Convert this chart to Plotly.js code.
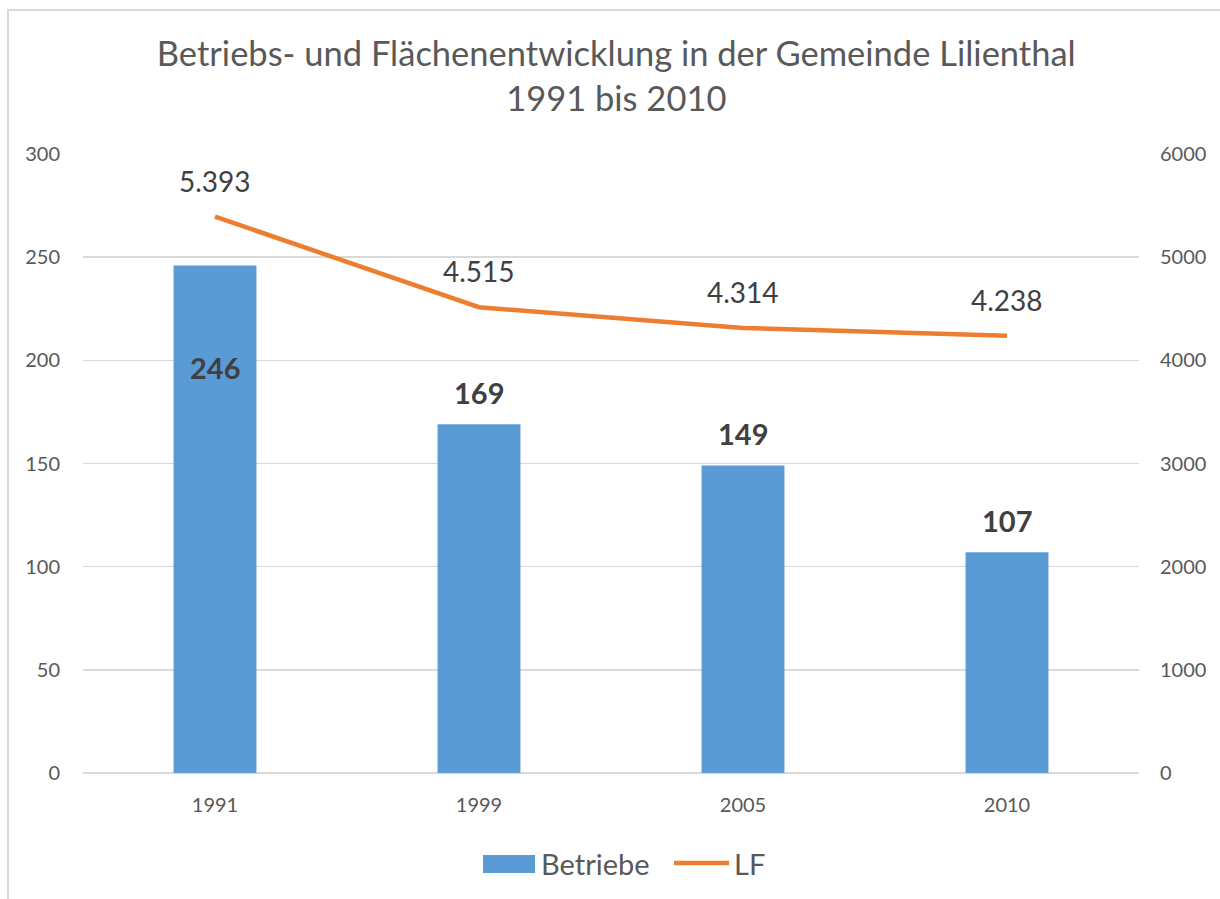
<!DOCTYPE html>
<html>
<head>
<meta charset="utf-8">
<script src="https://cdn.plot.ly/plotly-3.0.1.min.js"></script>
<style>
html,body{margin:0;padding:0;background:#fff;}
#frame{position:absolute;left:7px;top:9px;width:1300px;height:1000px;border-left:2px solid #d9d9d9;border-top:2px solid #d9d9d9;pointer-events:none;z-index:5;}
#chart{position:absolute;left:0;top:0;width:1220px;height:899px;}
</style>
</head>
<body>
<div id="chart"></div>
<div id="frame"></div>
<script>
const years = ['1991', '1999', '2005', '2010'];
const betriebe = [246, 169, 149, 107];
const lf = [5393, 4515, 4314, 4238];
const leftTicks = [0, 50, 100, 150, 200, 250, 300];
const rightTicks = [0, 1000, 2000, 3000, 4000, 5000, 6000];
const barLabelShift = [-102, 32, 32, 32];

function fmtDE(v) {
  return String(v).replace(/\B(?=(\d{3})+(?!\d))/g, '.');
}

const FONT = 'Lato, "Open Sans", sans-serif';
const W = 1220, H = 899, L = 83, R = 81, T = 154, B = 126;
const px = x => (x - L) / (W - L - R);
const py = y => (H - B - y) / (H - T - B);

const traces = [
  {
    type: 'bar', x: years, y: betriebe, name: 'Betriebe',
    marker: {color: '#5B9BD5'}, width: 0.314, showlegend: false,
    hoverinfo: 'x+y'
  },
  {
    type: 'scatter', mode: 'lines', x: years, y: lf, name: 'LF', yaxis: 'y2',
    line: {color: '#ED7D31', width: 4.5}, showlegend: false,
    hoverinfo: 'x+y'
  }
];

const annotations = [];
years.forEach((yr, i) => {
  annotations.push({
    x: i, y: betriebe[i], xref: 'x', yref: 'y', text: '<b>' + betriebe[i] + '</b>',
    showarrow: false, yshift: barLabelShift[i],
    font: {family: FONT, size: 29, color: '#404040'}
  });
  annotations.push({
    x: i, y: lf[i], xref: 'x', yref: 'y2', text: fmtDE(lf[i]),
    showarrow: false, yshift: 36,
    font: {family: FONT, size: 28, color: '#404040'}
  });
});
// legend texts
annotations.push({x: px(539), y: py(863), xref: 'paper', yref: 'paper', xanchor: 'left', yanchor: 'middle',
  text: 'Betriebe', showarrow: false, font: {family: FONT, size: 29, color: '#595959'}});
annotations.push({x: px(732), y: py(863), xref: 'paper', yref: 'paper', xanchor: 'left', yanchor: 'middle',
  text: 'LF', showarrow: false, font: {family: FONT, size: 29, color: '#595959'}});

const shapes = [
  {type: 'rect', xref: 'paper', yref: 'paper', x0: px(483), x1: px(535), y0: py(873), y1: py(855),
   fillcolor: '#5B9BD5', line: {width: 0}},
  {type: 'line', xref: 'paper', yref: 'paper', x0: px(674), x1: px(729), y0: py(863), y1: py(863),
   line: {color: '#ED7D31', width: 4.5}}
];

const layout = {
  width: W, height: H,
  margin: {l: L, r: R, t: T, b: B, pad: 0},
  paper_bgcolor: '#fff', plot_bgcolor: '#fff',
  font: {family: FONT, color: '#595959'},
  title: {
    text: 'Betriebs- und Flächenentwicklung in der Gemeinde Lilienthal<br>1991 bis 2010',
    font: {family: FONT, size: 34.5, color: '#595959'},
    x: 0.505, xref: 'paper', y: 1 - 66 / H, yref: 'container', yanchor: 'top'
  },
  xaxis: {
    type: 'category', tickvals: years, ticktext: years, range: [-0.5, 3.5], autorange: false,
    showgrid: false, zeroline: false, showline: false, ticks: '',
    tickfont: {family: FONT, size: 20, color: '#595959'},
    ticklabelstandoff: 18
  },
  yaxis: {
    range: [0, 300], autorange: false, tickvals: leftTicks, ticktext: leftTicks.map(String),
    showgrid: true, gridcolor: '#d9d9d9', gridwidth: 1.5, zeroline: true, zerolinecolor: '#d9d9d9', zerolinewidth: 2,
    showline: false, ticks: '',
    tickfont: {family: FONT, size: 20, color: '#595959'},
    ticklabelstandoff: 22
  },
  yaxis2: {
    range: [0, 6000], autorange: false, overlaying: 'y', side: 'right',
    tickvals: rightTicks, ticktext: rightTicks.map(String),
    showgrid: false, zeroline: false, showline: false, ticks: '',
    tickfont: {family: FONT, size: 20, color: '#595959'},
    ticklabelstandoff: 20
  },
  annotations: annotations,
  shapes: shapes,
  showlegend: false
};

Plotly.newPlot('chart', traces, layout, {displayModeBar: false, staticPlot: true});
</script>
</body>
</html>
